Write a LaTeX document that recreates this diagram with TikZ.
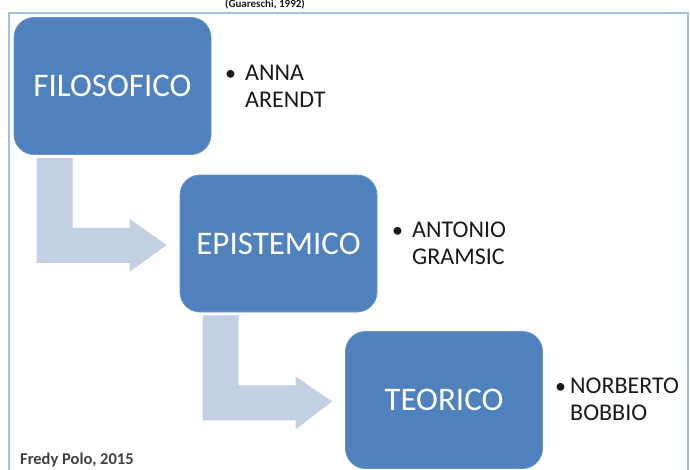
\documentclass[tikz,border=0pt]{standalone}
\usepackage{fontspec}
\setmainfont{Carlito}
\usetikzlibrary{calc}
\definecolor{boxblue}{HTML}{4F81BD}
\definecolor{boxedge}{HTML}{6A95C9}
\definecolor{arrowfill}{HTML}{C3CFE3}
\definecolor{framec}{HTML}{A3C1E3}
\definecolor{txt}{HTML}{1A1A1A}
\definecolor{foottxt}{HTML}{404040}
\tikzset{
  stage/.style={fill=boxblue, draw=boxedge, line width=0.8pt, rounded corners=20pt,
    minimum width=197pt, minimum height=137pt, inner sep=0pt, text=white,
    font=\fontsize{33}{36}\selectfont},
  names/.style={anchor=base west, inner sep=0pt, text=txt,
    font=\fontsize{24}{27}\selectfont},
  bul/.style={anchor=base west, inner sep=0pt, text=txt, font=\fontsize{22}{27}\selectfont},
  bent/.style={fill=arrowfill, draw=none},
}
\newcommand\bentarrow[2]{%
  \fill[bent] ($(#1.south west)+(23,3)$) -- ++(36,0) -- ++(0,70) -- ++(57,0)
    -- ++(0,-9) -- ($(#2.west)+(-13,1.5)$) -- ($(#1.south west)+(116,117)$)
    -- ++(0,-9) -- ++(-93,0) -- cycle;}
\begin{document}
\begin{tikzpicture}[x=1pt,y=-1pt]
\useasboundingbox (0,0) rectangle (690,469);
\clip (0,0) rectangle (690,469);
\fill[white] (0,0) rectangle (690,469);
% frame
\draw[framec, line width=2pt] (9,480) -- (9,13) -- (688,13) -- (688,480);
% title (cut at top)
\node[anchor=base, inner sep=0pt, text=txt, font=\bfseries\fontsize{11}{12}\selectfont] (title) at (265,7) {(Guareschi, 1992)};
% stages
\node[stage] (f) at (112.5,86) {FILOSOFICO};
\node[stage] (e) at (278.5,243.5) {EPISTEMICO};
\node[stage] (t) at (444,400) {TEOR\kern0ptICO};
% bent arrows
\bentarrow{f}{e}
\bentarrow{e}{t}
% names
\node[bul] (b1) at (225,80) {•};
\node[names] (n1) at (245,80) {ANNA};
\node[names] (n1b) at (245,107) {ARENDT};
\node[bul] (b2) at (392,237) {•};
\node[names] (n2) at (412,237) {ANTONIO};
\node[names] (n2b) at (412,264) {GRAMSIC};
\node[bul] (b3) at (555,393) {•};
\node[names] (n3) at (570,393) {NORBERTO};
\node[names] (n3b) at (570,420) {BOBBIO};
% footer
\node[anchor=base west, inner sep=0pt, text=foottxt, font=\bfseries\fontsize{16.5}{18}\selectfont] (foot) at (20,464.5) {Fredy Polo, 2015};
\end{tikzpicture}
\end{document}
